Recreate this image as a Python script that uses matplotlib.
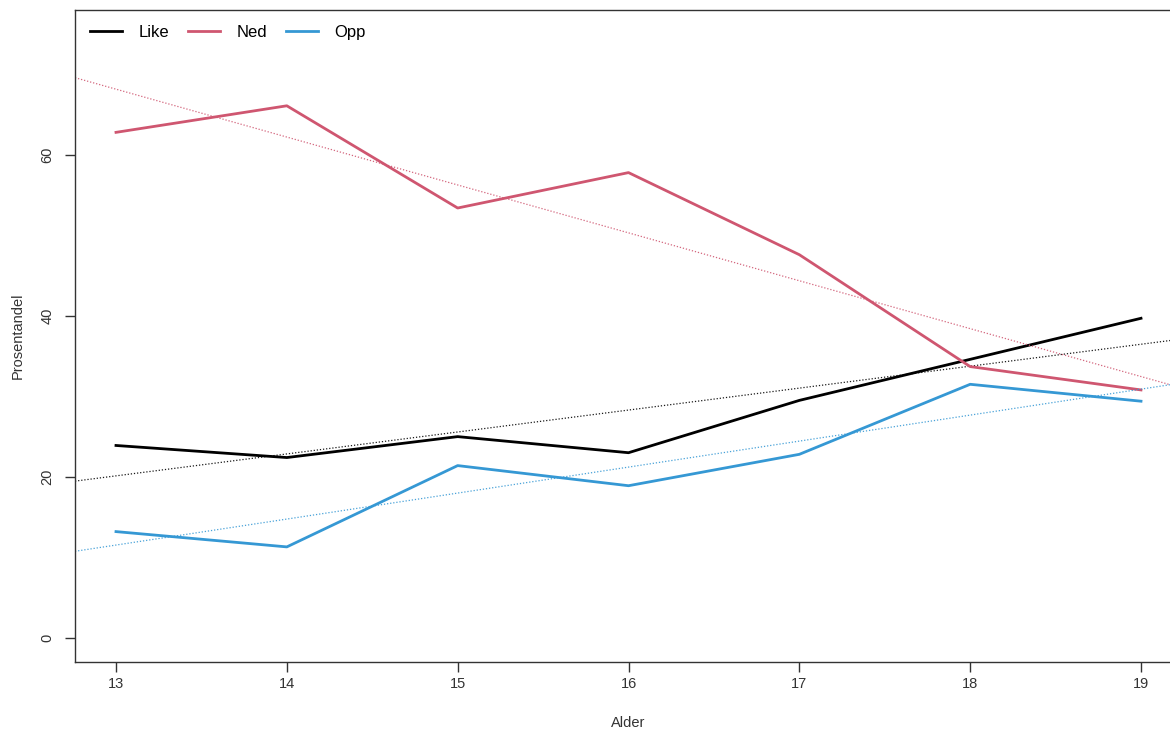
import numpy as np
import matplotlib
matplotlib.use("Agg")
import matplotlib.pyplot as plt

ages = [13, 14, 15, 16, 17, 18, 19]
like = [23.9, 22.4, 25.0, 23.0, 29.5, 34.6, 39.7]
ned = [62.8, 66.1, 53.4, 57.8, 47.6, 33.7, 30.8]
opp = [13.2, 11.3, 21.4, 18.9, 22.8, 31.5, 29.4]
series_names = ["Like", "Ned", "Opp"]
colors = ["#000000", "#CF5670", "#3598D4"]
yticks = [0, 20, 40, 60]

plt.rcParams['font.family'] = ['Liberation Sans', 'DejaVu Sans']
fig = plt.figure(figsize=(11.7, 7.31), dpi=100)
ax = fig.add_axes([75/1170, 1-662/731, (1182-75)/1170, (662-10)/731])

xlim = (12.76, 19.24)
ax.set_xlim(*xlim)
ax.set_ylim(-3, 78)

for name, vals, c in zip(series_names, [like, ned, opp], colors):
    ax.plot(ages, vals, color=c, lw=2, label=name)
    b1, b0 = np.polyfit(ages, vals, 1)
    xs = np.array(xlim)
    ax.plot(xs, b0 + b1 * xs, color=c, lw=0.9, ls=(0, (1, 1.5)), alpha=0.9)

ax.set_xticks(ages)
ax.set_xticklabels([str(a) for a in ages])
ax.set_yticks(yticks)
ax.set_yticklabels([str(v) for v in yticks], rotation=90, va='center')
ax.tick_params(axis='both', labelsize=10.5, color='#333333', labelcolor='#333333',
               length=7, width=1)
ax.tick_params(axis='x', pad=4)
ax.tick_params(axis='y', pad=8)
for sp in ax.spines.values():
    sp.set_color('#333333')
    sp.set_linewidth(1)

ax.set_xlabel("Alder", fontsize=10.5, color='#333333', labelpad=18)
ax.set_ylabel("Prosentandel", fontsize=10.5, color='#333333', labelpad=11)

ax.legend(loc='upper left', ncol=3, frameon=False, fontsize=12,
          handlelength=1.9, columnspacing=1.15, handletextpad=1.0,
          bbox_to_anchor=(0.0, 1.0), borderaxespad=0.5)

fig.savefig("out.png", dpi=100)
